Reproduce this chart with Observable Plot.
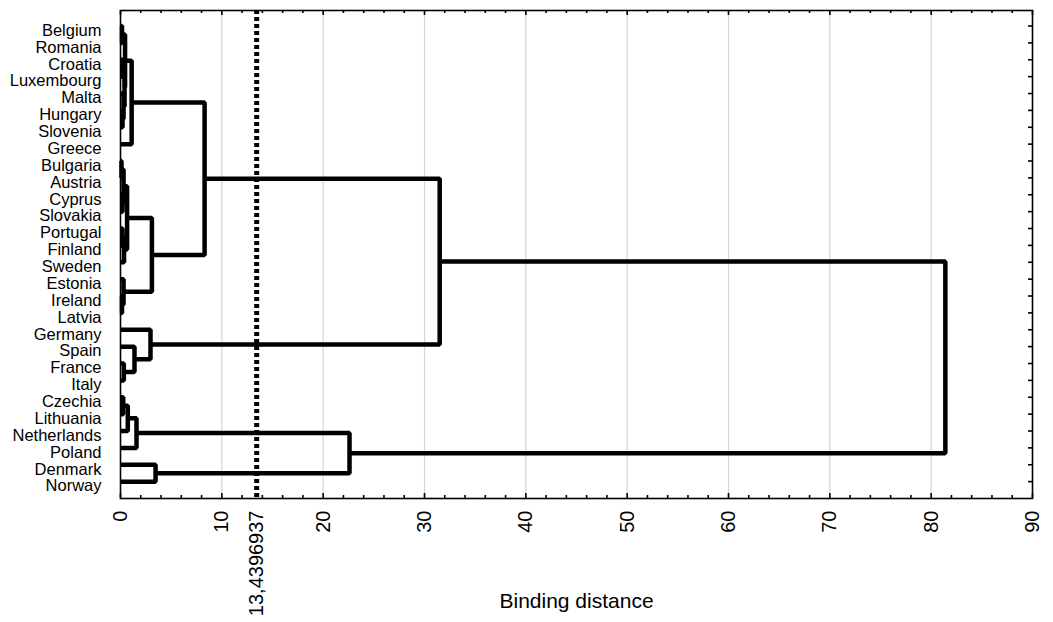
<!DOCTYPE html>
<html>
<head>
<meta charset="utf-8">
<script src="https://cdn.jsdelivr.net/npm/d3@7"></script>
<script src="https://cdn.jsdelivr.net/npm/@observablehq/plot@0.6"></script>
<style>
  html, body { margin: 0; padding: 0; background: #fff; }
  svg { display: block; }
</style>
</head>
<body>
<div id="chart"></div>
<script>
const leaves = ["Belgium","Romania","Croatia","Luxembourg","Malta","Hungary","Slovenia","Greece",
  "Bulgaria","Austria","Cyprus","Slovakia","Portugal","Finland","Sweden","Estonia","Ireland","Latvia",
  "Germany","Spain","France","Italy","Czechia","Lithuania","Netherlands","Poland","Denmark","Norway"];

// [left, right, binding distance]; numbers refer to earlier merges
const merges = [
  ["Belgium","Romania",0.15],   //0
  ["Croatia","Luxembourg",0.2], //1
  ["Hungary","Slovenia",0.2],   //2
  ["Malta",2,0.3],              //3
  [1,3,0.4],                    //4
  [0,4,0.45],                   //5
  [5,"Greece",1.1],             //6
  ["Bulgaria","Austria",0.1],   //7
  ["Cyprus","Slovakia",0.2],    //8
  [7,8,0.3],                    //9
  ["Portugal","Finland",0.2],   //10
  [10,"Sweden",0.35],           //11
  [9,11,0.65],                  //12
  ["Ireland","Latvia",0.15],    //13
  ["Estonia",13,0.3],           //14
  [12,14,3.1],                  //15
  [6,15,8.3],                   //16
  ["France","Italy",0.33],      //17
  ["Spain",17,1.38],            //18
  ["Germany",18,2.96],          //19
  [16,19,31.5],                 //20
  ["Czechia","Lithuania",0.27], //21
  [21,"Netherlands",0.72],      //22
  [22,"Poland",1.58],           //23
  ["Denmark","Norway",3.46],    //24
  [23,24,22.6],                 //25
  [20,25,81.4]                  //26
];

const threshold = 13.4396937;
const thresholdLabel = "13,4396937";
const majorTicks = [0,10,20,30,40,50,60,70,80,90];
const minorTicks = d3.range(0, 91, 2).filter(v => v % 10 !== 0);
const xLabel = "Binding distance";

// build dendrogram paths
const pos = [];
function node(ref) {
  if (typeof ref === "number") return {y: pos[ref].y, h: pos[ref].h};
  return {y: leaves.indexOf(ref), h: 0};
}
const segs = [];
merges.forEach(([a, b, h], k) => {
  const A = node(a), B = node(b);
  pos[k] = {y: (A.y + B.y) / 2, h};
  segs.push({id: k, x: A.h, y: A.y}, {id: k, x: h, y: A.y}, {id: k, x: h, y: B.y}, {id: k, x: B.h, y: B.y});
});

const W = 1053, H = 622, mT = 10, mB = 124, mL = 120, mR = 21;
const yDomain = [-0.92, 28];
const rowPx = (H - mT - mB) / (yDomain[1] - yDomain[0]);
const unitPx = (W - mL - mR) / 90;
const px2row = p => p / rowPx;
const px2x = p => p / unitPx;
const rows = d3.range(leaves.length);

const font = "'Liberation Sans', Arial, Helvetica, sans-serif";

const chart = Plot.plot({
  width: W, height: H,
  marginTop: mT, marginBottom: mB, marginLeft: mL, marginRight: mR,
  style: {fontFamily: font, fontSize: "16.5px", background: "#fff", color: "#000", overflow: "visible"},
  x: {domain: [0, 90], axis: null},
  y: {domain: yDomain, reverse: true, axis: null},
  marks: [
    Plot.ruleX(majorTicks.filter(v => v > 0 && v < 90), {stroke: "#d6d6d6", strokeWidth: 1.2}),
    Plot.line(segs, {x: "x", y: "y", z: "id", stroke: "black", strokeWidth: 4.5, strokeLinejoin: "miter", strokeLinecap: "butt"}),
    Plot.ruleX([threshold], {stroke: "black", strokeWidth: 5, strokeDasharray: "4,3"}),
    Plot.frame({stroke: "black", strokeWidth: 1.6}),
    // inward ticks bottom
    Plot.ruleX(majorTicks, {y1: yDomain[1], y2: yDomain[1] - px2row(5), stroke: "black", strokeWidth: 1.6}),
    Plot.ruleX(minorTicks, {y1: yDomain[1], y2: yDomain[1] - px2row(3), stroke: "black", strokeWidth: 1.6}),
    // inward ticks top
    Plot.ruleX(majorTicks, {y1: yDomain[0], y2: yDomain[0] + px2row(5), stroke: "black", strokeWidth: 1.6}),
    Plot.ruleX(minorTicks, {y1: yDomain[0], y2: yDomain[0] + px2row(3), stroke: "black", strokeWidth: 1.6}),
    // inward ticks right
    Plot.ruleY(rows, {x1: 90, x2: 90 - px2x(4), stroke: "black", strokeWidth: 1.6}),
    // tick labels
    Plot.text(majorTicks, {x: d => d, y: yDomain[1], text: d => String(d), rotate: -90, textAnchor: "end", lineAnchor: "middle", dy: 12, fontSize: 20, fill: "black"}),
    Plot.text([threshold], {x: d => d, y: yDomain[1], text: () => thresholdLabel, rotate: -90, textAnchor: "end", lineAnchor: "middle", dy: 12, fontSize: 20, fill: "black"}),
    // country labels
    Plot.text(leaves, {x: 0, y: (d, i) => i, text: d => d, textAnchor: "end", dx: -19, dy: 4.5, fontSize: 16.5, fill: "black"}),
    // axis title
    Plot.text([xLabel], {x: 45, y: yDomain[1], text: d => d, dy: 103, fontSize: 21, fill: "black"})
  ]
});
document.getElementById("chart").appendChild(chart);
</script>
</body>
</html>
